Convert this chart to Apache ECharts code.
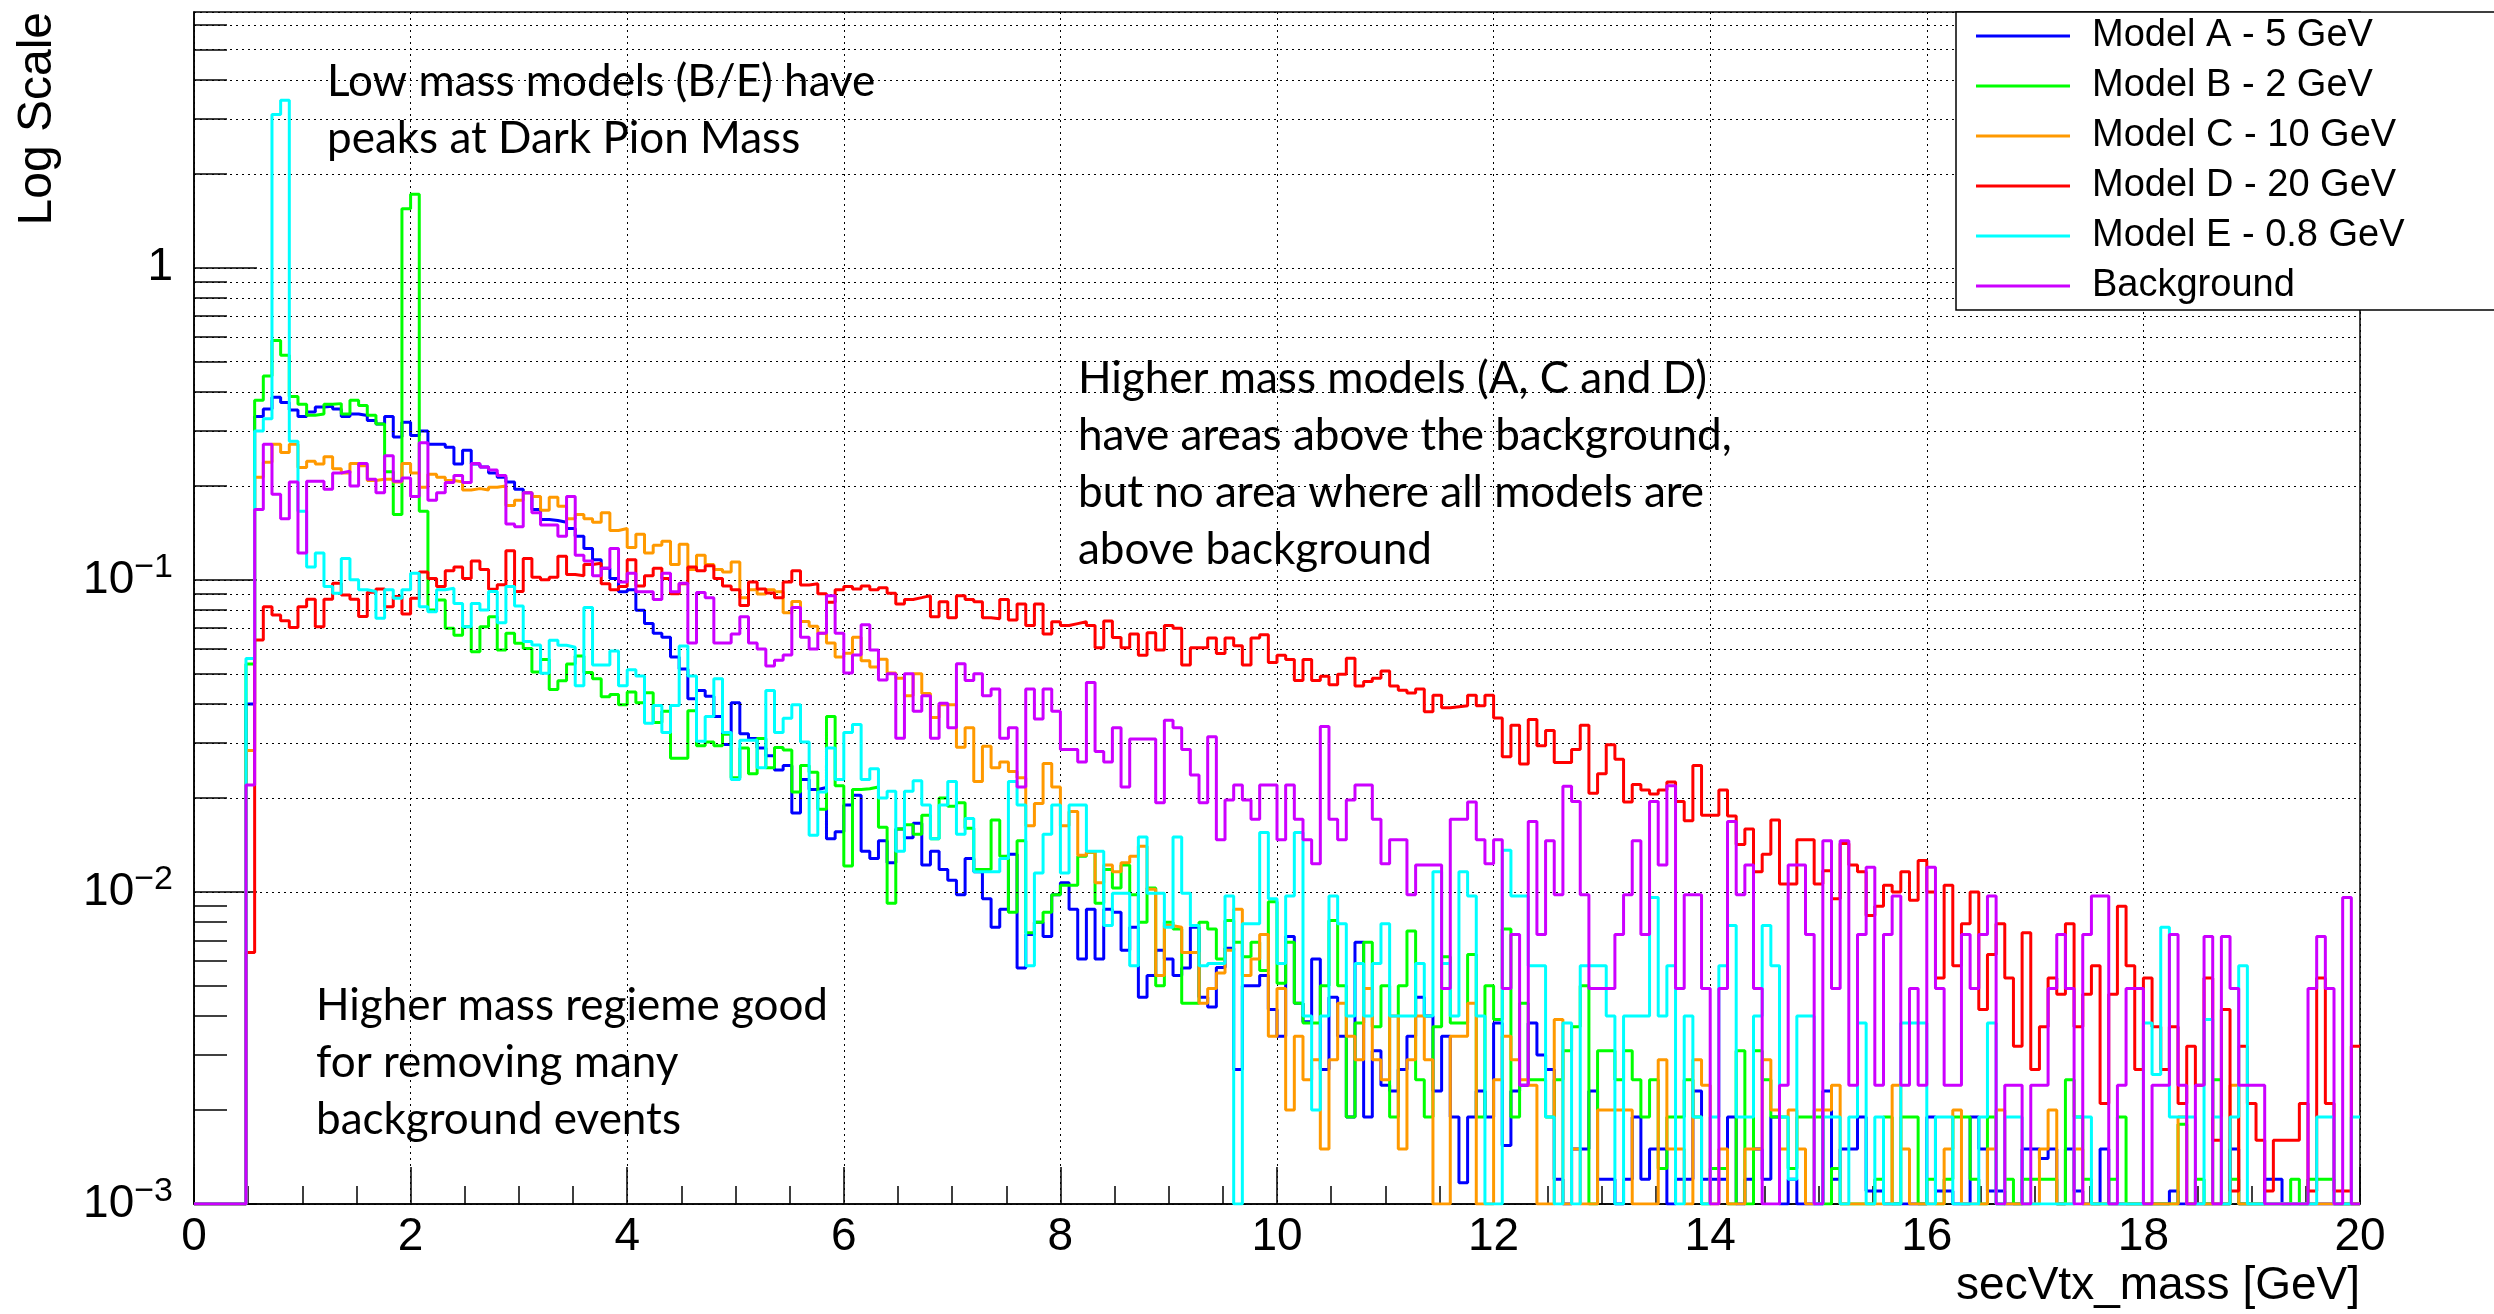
<!DOCTYPE html>
<html>
<head>
<meta charset="utf-8">
<title>secVtx_mass</title>
<script src="https://cdn.jsdelivr.net/npm/echarts@6/dist/echarts.min.js"></script>
<style>
  html, body { margin: 0; padding: 0; background: #fff; }
  #chart { width: 2494px; height: 1314px; }
</style>
</head>
<body>
<div id="chart"></div>
<script>
// 250 bins of 0.08 GeV from 0 to 20 GeV, one value per bin (left edge = i * binWidth)
var binWidth = 0.08;

var modelA = [
  0, 0, 0, 0, 0, 0,
  0.04, 0.334, 0.353, 0.385, 0.37, 0.35, 0.334, 0.345, 0.358, 0.36, 0.353, 0.334, 0.34, 0.336, 0.324, 0.316, 0.334, 0.287, 0.32, 0.29, 0.30, 0.272, 0.272, 0.266, 0.235, 0.26, 0.235, 0.23, 0.22, 0.213, 0.206, 0.195, 0.19, 0.168, 0.156, 0.155,
  0.153, 0.146, 0.138, 0.126, 0.116, 0.109, 0.101, 0.0916, 0.093, 0.0799, 0.0725, 0.0674, 0.0655, 0.0566, 0.0518, 0.0416, 0.0442, 0.0424, 0.0365, 0.0297, 0.0404, 0.0321, 0.031, 0.0289, 0.0273, 0.0246, 0.0254, 0.0179, 0.0229, 0.0213, 0.0216, 0.0148, 0.0156, 0.019, 0.0204, 0.0135, 0.0128, 0.0146,
  0.0124, 0.0159, 0.0149, 0.0166, 0.0122, 0.0135, 0.0118, 0.0109, 0.0098, 0.0128, 0.0116, 0.0095, 0.0077, 0.0088, 0.0132, 0.0057, 0.0073, 0.008, 0.0072, 0.0098, 0.0107, 0.0088, 0.0061, 0.0088, 0.0061, 0.0088, 0.0086, 0.0065, 0.0077, 0.0046, 0.0054, 0.0065, 0.0061, 0.0054, 0.0057, 0.0077, 0.0046,
  0.00428, 0.00573, 0.0066, 0.0027, 0.005, 0.005, 0.0054, 0.0042, 0.00345, 0.0072, 0.0044, 0.00384, 0.0061, 0.0027, 0.0046, 0.00345, 0.0019, 0.0069, 0.0019, 0.0031, 0.0024, 0.0023, 0.0027, 0.00345, 0.0046, 0.004, 0.0023, 0.00345, 0.0019, 0.00117, 0.0019, 0.0023, 0.0019, 0.0038, 0.00154, 0.0023, 0.0024, 0.0038,
  0.003, 0.0027, 0.0012, 0, 0.0015, 0.0015, 0.0023, 0.0012, 0.0012, 0, 0.0012, 0.0019, 0.0012, 0.0015, 0.0015, 0, 0.0012, 0.0012, 0.0023, 0.0012, 0.0012, 0.0012, 0.0019, 0, 0.0012, 0.0015, 0.0012, 0.0019, 0, 0.0012, 0, 0, 0, 0.0023, 0.0012, 0.0015, 0.0015,
  0.0019, 0.0011, 0.0011, 0, 0, 0, 0, 0, 0.0019, 0.0011, 0.0011, 0, 0, 0.0019, 0.0015, 0.0011, 0.0011, 0, 0, 0.0015, 0.0015, 0.0014, 0.0015, 0, 0.0015, 0.0011, 0, 0, 0.0015, 0, 0, 0, 0, 0, 0, 0, 0.0011,
  0, 0, 0, 0, 0, 0, 0.0015, 0, 0, 0, 0.0012, 0.0012, 0, 0, 0, 0, 0, 0, 0, 0, 0
];

var modelB = [
  0, 0, 0, 0, 0, 0,
  0.0537, 0.376, 0.45, 0.585, 0.524, 0.387, 0.365, 0.337, 0.34, 0.365, 0.367, 0.34, 0.376, 0.362, 0.337, 0.316, 0.222, 0.162, 1.545, 1.72, 0.166, 0.08, 0.0862, 0.07, 0.0665, 0.0708, 0.0588, 0.0708, 0.0762, 0.0596, 0.0674, 0.0626, 0.0603, 0.0507, 0.0556, 0.0445,
  0.0475, 0.0537, 0.057, 0.0505, 0.0482, 0.0422, 0.0429, 0.0398, 0.0437, 0.0404, 0.0435, 0.0349, 0.0379, 0.0268, 0.0268, 0.0381, 0.0294, 0.0302, 0.0294, 0.032, 0.0232, 0.0289, 0.0239, 0.031, 0.025, 0.029, 0.0285, 0.0209, 0.0254, 0.0242, 0.0184, 0.0365, 0.0219, 0.0121, 0.0213, 0.0214, 0.0217, 0.0161,
  0.0092, 0.0159, 0.0164, 0.0153, 0.0176, 0.0148, 0.02, 0.0188, 0.0193, 0.016, 0.0118, 0.0118, 0.017, 0.013, 0.0086, 0.0146, 0.0074, 0.008, 0.0086, 0.0098, 0.0105, 0.0105, 0.013, 0.0134, 0.0092, 0.0118, 0.0103, 0.0122, 0.0098, 0.008, 0.0103, 0.005, 0.008, 0.0076, 0.0044, 0.0044, 0.008,
  0.0076, 0.0061, 0.0081, 0.0069, 0.0062, 0.0069, 0.0056, 0.0093, 0.0051, 0.0069, 0.0044, 0.0038, 0.0038, 0.005, 0.0081, 0.005, 0.0019, 0.0038, 0.0069, 0.0037, 0.005, 0.0019, 0.005, 0.0075, 0.0025, 0.0019, 0.0037, 0.0062, 0.0038, 0.0038, 0.0063, 0.0019, 0.005, 0.0039, 0.0076, 0.0019, 0.0044, 0.0025,
  0.0025, 0.0019, 0.0025, 0.0031, 0.0037, 0.005, 0, 0.0031, 0.0031, 0.0025, 0.0031, 0.0025, 0.0019, 0.0025, 0.0013, 0.0019, 0.0019, 0.0025, 0.0019, 0, 0.0013, 0.0013, 0, 0.0031, 0, 0.0031, 0.0025, 0.0019, 0.0019, 0.0013, 0.0019, 0.0019, 0.0019, 0, 0.0013, 0, 0,
  0, 0, 0.0012, 0.0019, 0, 0.0019, 0.0019, 0, 0.0012, 0, 0.0012, 0.0019, 0.0019, 0.0012, 0, 0.0019, 0, 0.0012, 0, 0.0012, 0.0012, 0.0012, 0.0012, 0, 0.0025, 0.0019, 0.0012, 0, 0, 0.0012, 0.0019, 0, 0, 0, 0, 0, 0,
  0.0018, 0, 0.0012, 0, 0.0025, 0, 0.0012, 0, 0, 0, 0, 0, 0, 0.0012, 0, 0.0012, 0.0012, 0.0012, 0, 0, 0
];

var modelC = [
  0, 0, 0, 0, 0, 0,
  0.0284, 0.213, 0.238, 0.272, 0.256, 0.272, 0.229, 0.24, 0.235, 0.248, 0.227, 0.22, 0.236, 0.232, 0.208, 0.21, 0.21, 0.206, 0.236, 0.22, 0.198, 0.218, 0.213, 0.208, 0.206, 0.194, 0.196, 0.194, 0.198, 0.20, 0.173, 0.18, 0.19, 0.185, 0.167, 0.184,
  0.172, 0.157, 0.162, 0.157, 0.153, 0.164, 0.144, 0.146, 0.127, 0.14, 0.122, 0.129, 0.133, 0.112, 0.13, 0.108, 0.12, 0.112, 0.108, 0.106, 0.114, 0.0877, 0.093, 0.09, 0.093, 0.0916, 0.0785, 0.0852, 0.0736, 0.071, 0.0674, 0.0627, 0.0566, 0.0582, 0.0655, 0.055, 0.0526, 0.0557,
  0.0503, 0.0484, 0.0425, 0.05, 0.0432, 0.0362, 0.0398, 0.0398, 0.0291, 0.0336, 0.0226, 0.0293, 0.025, 0.0261, 0.0243, 0.0232, 0.0163, 0.0192, 0.0258, 0.0217, 0.0163, 0.0181, 0.0131, 0.0134, 0.0107, 0.0122, 0.0116, 0.0124, 0.013, 0.014, 0.0102, 0.0054, 0.0078, 0.0077, 0.0064, 0.0064, 0.0044,
  0.0049, 0.0055, 0.0065, 0.0088, 0.0054, 0.0061, 0.0073, 0.00345, 0.0049, 0.002, 0.00345, 0.0025, 0.0029, 0.0015, 0.0029, 0.0044, 0.00345, 0.0029, 0.0049, 0.0029, 0.0025, 0.004, 0.0015, 0.0029, 0.004, 0.0029, 0, 0, 0.00345, 0.00345, 0.0044, 0, 0, 0.0025, 0.00345, 0.0029, 0.0025, 0.0024,
  0, 0, 0.0039, 0, 0.0015, 0, 0, 0.002, 0.002, 0.002, 0.002, 0, 0, 0, 0.0029, 0.0015, 0.0015, 0, 0.0029, 0.0024, 0, 0.0015, 0, 0, 0.0015, 0.0015, 0.0029, 0.002, 0.0015, 0.002, 0.0015, 0, 0.002, 0.002, 0.0024, 0, 0,
  0, 0, 0, 0, 0.0024, 0.0015, 0, 0, 0, 0, 0.0015, 0.002, 0, 0, 0, 0.0015, 0.002, 0, 0, 0, 0, 0.0015, 0.002, 0, 0, 0.0015, 0, 0, 0, 0, 0, 0, 0, 0, 0, 0, 0,
  0.0019, 0, 0, 0, 0, 0, 0.0024, 0, 0, 0, 0, 0, 0, 0, 0, 0, 0, 0, 0, 0, 0
];

var modelD = [
  0, 0, 0, 0, 0, 0,
  0.0064, 0.0641, 0.082, 0.0772, 0.074, 0.0703, 0.082, 0.0866, 0.0708, 0.0866, 0.0975, 0.0895, 0.0866, 0.0763, 0.0913, 0.0935, 0.082, 0.0884, 0.0777, 0.0873, 0.106, 0.101, 0.0952, 0.107, 0.11, 0.101, 0.115, 0.108, 0.0933, 0.0964, 0.124, 0.0917, 0.117, 0.102, 0.10, 0.102,
  0.119, 0.104, 0.103, 0.112, 0.113, 0.0971, 0.0929, 0.0952, 0.116, 0.0956, 0.103, 0.109, 0.101, 0.0903, 0.0971, 0.11, 0.107, 0.111, 0.101, 0.0956, 0.0929, 0.0827, 0.0985, 0.0935, 0.0908, 0.0877, 0.0985, 0.107, 0.0963, 0.0971, 0.0903, 0.0847, 0.0929, 0.0952, 0.0935, 0.0956, 0.0929, 0.0943,
  0.0905, 0.0836, 0.0865, 0.0877, 0.089, 0.0761, 0.085, 0.0756, 0.089, 0.0865, 0.085, 0.0756, 0.075, 0.0865, 0.0744, 0.0836, 0.0714, 0.0836, 0.067, 0.0734, 0.0714, 0.0724, 0.0734, 0.0714, 0.0606, 0.0738, 0.0654, 0.0606, 0.067, 0.0573, 0.0677, 0.0596, 0.0714, 0.07, 0.0533, 0.0606, 0.0606,
  0.0651, 0.0581, 0.0651, 0.0615, 0.0533, 0.0651, 0.0667, 0.0543, 0.0573, 0.0556, 0.0476, 0.0556, 0.0476, 0.0491, 0.0461, 0.0498, 0.0561, 0.0457, 0.0472, 0.0484, 0.051, 0.0457, 0.0443, 0.0434, 0.0447, 0.0378, 0.0427, 0.0389, 0.0392, 0.0395, 0.0427, 0.0395, 0.0427, 0.0361, 0.0271, 0.0342, 0.0257, 0.0357,
  0.0294, 0.0329, 0.026, 0.026, 0.0286, 0.0342, 0.0207, 0.0239, 0.0296, 0.0266, 0.0194, 0.0221, 0.0212, 0.0206, 0.0212, 0.0225, 0.0195, 0.0169, 0.0254, 0.0176, 0.0176, 0.0212, 0.0175, 0.0142, 0.0159, 0.0116, 0.0132, 0.017, 0.0106, 0.0106, 0.0147, 0.0147, 0.0106, 0.0117, 0.0095, 0.0143, 0.0122,
  0.0116, 0.0084, 0.009, 0.0105, 0.01, 0.0116, 0.0094, 0.0126, 0.01, 0.0053, 0.0105, 0.0058, 0.0079, 0.01, 0.0042, 0.0063, 0.0079, 0.0053, 0.0032, 0.0074, 0.0027, 0.0037, 0.0053, 0.0047, 0.0079, 0.0037, 0.0047, 0.0058, 0.0021, 0.0047, 0.009, 0.0058, 0.0027, 0.0053, 0.0037, 0.0027, 0.0037,
  0.0021, 0.0032, 0.0024, 0.0053, 0.0016, 0.0042, 0.0011, 0.0032, 0.0021, 0.0016, 0.0011, 0.0016, 0.0016, 0.0016, 0.0021, 0.0011, 0.0053, 0.0021, 0.0011, 0.0011, 0.0032
];

var modelE = [
  0, 0, 0, 0, 0, 0,
  0.056, 0.30, 0.328, 3.1, 3.44, 0.278, 0.166, 0.110, 0.122, 0.0952, 0.0906, 0.117, 0.10, 0.093, 0.0917, 0.0753, 0.093, 0.0873, 0.093, 0.105, 0.082, 0.079, 0.093, 0.094, 0.084, 0.0708, 0.084, 0.080, 0.0917, 0.0729, 0.0952, 0.0825, 0.0634, 0.0618, 0.0502, 0.064,
  0.0617, 0.0608, 0.0458, 0.0815, 0.0533, 0.0533, 0.0591, 0.0458, 0.0515, 0.0492, 0.0347, 0.0396, 0.0324, 0.0396, 0.0614, 0.0492, 0.0304, 0.0365, 0.0482, 0.0324, 0.0229, 0.0306, 0.0306, 0.025, 0.0442, 0.0324, 0.036, 0.0398, 0.0302, 0.0152, 0.0209, 0.0289, 0.0229, 0.0324, 0.0344, 0.0229, 0.0248, 0.02,
  0.021, 0.0135, 0.021, 0.0227, 0.019, 0.0148, 0.019, 0.0226, 0.0153, 0.0172, 0.0116, 0.0116, 0.0116, 0.0128, 0.0226, 0.019, 0.0058, 0.0115, 0.0153, 0.019, 0.0115, 0.019, 0.019, 0.0135, 0.0135, 0.0078, 0.0099, 0.0099, 0.0058, 0.015, 0.0099, 0.0099, 0.0077, 0.015, 0.0099, 0.0078, 0.0058,
  0.0059, 0.0059, 0.0097, 0, 0.0079, 0.0079, 0.0155, 0.0095, 0.0059, 0.0097, 0.0155, 0.004, 0.002, 0.004, 0.0097, 0.0079, 0.004, 0.0059, 0.004, 0.0059, 0.0079, 0.004, 0.004, 0.004, 0.0059, 0.004, 0.0116, 0.0059, 0.004, 0.0116, 0.0097, 0.004, 0, 0, 0.0136, 0.0097, 0.0097, 0.0058,
  0.0058, 0.0019, 0, 0.0038, 0, 0.0058, 0.0058, 0.0058, 0.004, 0, 0.004, 0.004, 0.004, 0.0096, 0.004, 0.0058, 0, 0.004, 0.0019, 0, 0.0019, 0.0058, 0.0078, 0.0019, 0.0019, 0.004, 0.0078, 0.0058, 0.0019, 0.0012, 0.004, 0.004, 0, 0.0019, 0.0019, 0, 0.0019,
  0.0038, 0, 0.0019, 0, 0, 0.0038, 0.0038, 0.0038, 0, 0.0019, 0.0019, 0, 0, 0, 0.0019, 0.0038, 0, 0.0019, 0.0019, 0, 0, 0, 0, 0, 0, 0.0019, 0.0019, 0, 0, 0, 0, 0, 0, 0.0038, 0.0026, 0.0077, 0.0019,
  0.0019, 0.0019, 0, 0.0039, 0.0019, 0, 0.0019, 0.0058, 0, 0, 0, 0, 0, 0, 0, 0, 0.0019, 0.0019, 0, 0, 0.0019
];

var background = [
  0, 0, 0, 0, 0, 0,
  0.022, 0.168, 0.272, 0.188, 0.157, 0.206, 0.122, 0.207, 0.207, 0.195, 0.22, 0.223, 0.2, 0.236, 0.21, 0.19, 0.25, 0.207, 0.212, 0.185, 0.275, 0.18, 0.19, 0.205, 0.216, 0.205, 0.236, 0.23, 0.225, 0.216, 0.151, 0.148, 0.19, 0.164, 0.15, 0.15,
  0.138, 0.185, 0.12, 0.115, 0.103, 0.109, 0.126, 0.0985, 0.105, 0.0916, 0.0916, 0.0865, 0.105, 0.0916, 0.0975, 0.0627, 0.091, 0.0877, 0.0627, 0.0627, 0.067, 0.0762, 0.0627, 0.06, 0.053, 0.0553, 0.0574, 0.0815, 0.0655, 0.06, 0.0674, 0.089, 0.0674, 0.0503, 0.0574, 0.0718, 0.0596, 0.0478,
  0.05, 0.0311, 0.05, 0.0379, 0.0425, 0.0311, 0.0402, 0.0336, 0.0538, 0.0476, 0.05, 0.0425, 0.0447, 0.0311, 0.0336, 0.0217, 0.0447, 0.0358, 0.0447, 0.0379, 0.0286, 0.0286, 0.0261, 0.0469, 0.0282, 0.0261, 0.0336, 0.0217, 0.0309, 0.0309, 0.0309, 0.0193, 0.0355, 0.0336, 0.0286, 0.0237, 0.0193,
  0.0314, 0.0147, 0.0197, 0.022, 0.0197, 0.0171, 0.022, 0.022, 0.0147, 0.022, 0.0171, 0.0147, 0.0123, 0.0339, 0.0171, 0.0147, 0.0197, 0.022, 0.022, 0.0171, 0.0123, 0.0147, 0.0147, 0.0098, 0.0122, 0.0122, 0.0122, 0.0049, 0.0171, 0.0171, 0.0194, 0.0147, 0.0123, 0.0147, 0.0049, 0.0073, 0.0024, 0.0168,
  0.0073, 0.0146, 0.0098, 0.0218, 0.0195, 0.0098, 0.0049, 0.0049, 0.0049, 0.0073, 0.0098, 0.0146, 0.0073, 0.0195, 0.0122, 0.0219, 0.0049, 0.0098, 0.0098, 0.0049, 0, 0.0049, 0.0168, 0.0098, 0.0122, 0.0049, 0, 0, 0.0024, 0.0122, 0.0122, 0.0073, 0, 0.0146, 0.0049, 0.0146, 0.0024,
  0.0073, 0.012, 0.0024, 0.0073, 0.0097, 0.0024, 0.0049, 0.0024, 0.012, 0.0049, 0.0024, 0.0024, 0.0073, 0.0049, 0.0073, 0.0097, 0, 0.0024, 0.0024, 0, 0.0024, 0.0024, 0.0049, 0.0073, 0.0049, 0, 0.0073, 0.0097, 0.0097, 0, 0.0024, 0.0049, 0.0049, 0, 0.0024, 0.0024, 0.0073,
  0.0024, 0, 0.0024, 0.0072, 0, 0.0072, 0.0049, 0.0024, 0.0024, 0.0024, 0, 0, 0, 0, 0, 0.0049, 0.0072, 0.0049, 0, 0.0096, 0
];

var seriesNames = ['Model A - 5 GeV', 'Model B - 2 GeV', 'Model C - 10 GeV', 'Model D - 20 GeV', 'Model E - 0.8 GeV', 'Background'];
var seriesColors = ['#0000ff', '#00ff00', '#ff9900', '#ff0000', '#00ffff', '#cc00ff'];
var hists = [modelA, modelB, modelC, modelD, modelE, background];

// y axis (log) range and the 2..9 minor grid of each decade
var yMin = 0.001;
var yMax = 6.6;
var decades = [0.001, 0.01, 0.1, 1];
var mantissas = [2, 3, 4, 5, 6, 7, 8, 9];

var notes = [
  { x: 327, y: 82, lines: ['Low mass models (B/E) have', 'peaks at Dark Pion Mass'] },
  { x: 1078, y: 379, lines: ['Higher mass models (A, C and D)', 'have areas above the background,', 'but no area where all models are', 'above background'] },
  { x: 316, y: 1006, lines: ['Higher mass regieme good', 'for removing many', 'background events'] }
];

hists.forEach(function (h, k) {
  if (h.length !== 250) throw new Error(seriesNames[k] + ' has ' + h.length + ' bins');
});

// histogram -> step points, empty bins sit on the frame bottom like ROOT does
function toSteps(values) {
  var pts = values.map(function (v, i) {
    return [i * binWidth, v > 0 ? v : yMin];
  });
  pts.push([values.length * binWidth, pts[pts.length - 1][1]]);
  return pts;
}

var minorGrid = [];
decades.forEach(function (d) {
  mantissas.forEach(function (m) {
    var v = +(m * d).toPrecision(3);
    if (v < yMax) minorGrid.push(v);
  });
});

var font = 'Liberation Sans';
var minorTickLen = 0.305; // in GeV, ~33px

var series = [
  {
    type: 'line', data: [], silent: true, z: 1,
    markLine: {
      silent: true, symbol: ['none', 'none'], animation: false,
      label: { show: false },
      lineStyle: { color: '#000', type: [2, 4], width: 1 },
      data: minorGrid.map(function (v) { return { yAxis: v }; })
    }
  },
  {
    type: 'line', data: [], silent: true, z: 1,
    markLine: {
      silent: true, symbol: ['none', 'none'], animation: false,
      label: { show: false },
      lineStyle: { color: '#000', type: 'solid', width: 1.5 },
      data: minorGrid.map(function (v) {
        return [{ coord: [0, v] }, { coord: [minorTickLen, v] }];
      })
    }
  }
];

hists.forEach(function (h, k) {
  series.push({
    name: seriesNames[k],
    type: 'line',
    step: 'end',
    data: toSteps(h),
    symbol: 'none',
    showSymbol: false,
    clip: true,
    z: 3 + k,
    lineStyle: { color: seriesColors[k], width: 3 },
    itemStyle: { color: seriesColors[k] },
    emphasis: { disabled: true }
  });
});

var graphics = [
  {
    type: 'text', x: 38, y: 12, rotation: Math.PI / 2,
    style: { text: 'Log Scale', fontSize: 48, fontFamily: font, fill: '#000', align: 'right', verticalAlign: 'middle' }
  },
  {
    type: 'text', x: 2360, y: 1286,
    style: { text: 'secVtx_mass [GeV]', fontSize: 46, fontFamily: font, fill: '#000', align: 'right', verticalAlign: 'middle' }
  }
];
notes.forEach(function (n) {
  n.lines.forEach(function (line, j) {
    graphics.push({
      type: 'text', x: n.x, y: n.y + j * 57,
      style: { text: line, fontSize: 44, fontFamily: 'Lato', fill: '#000', align: 'left', verticalAlign: 'middle' }
    });
  });
});

var myChart = echarts.init(document.getElementById('chart'), null, { renderer: 'canvas' });

var option = {
  animation: false,
  backgroundColor: '#fff',
  grid: {
    left: 194, right: 134, top: 12, bottom: 110,
    show: true, borderColor: '#000', borderWidth: 1.5, backgroundColor: 'transparent'
  },
  legend: {
    data: seriesNames,
    orient: 'vertical',
    left: 1956, top: 12,
    z: 20,
    icon: 'rect',
    itemWidth: 94, itemHeight: 3,
    itemGap: 6,
    selectedMode: false,
    backgroundColor: '#fff',
    borderColor: '#000', borderWidth: 1.5, borderRadius: 0,
    padding: [2, 120, 2, 20],
    textStyle: { fontSize: 38, fontFamily: font, color: '#000', lineHeight: 44, padding: [0, 0, 0, 17] }
  },
  xAxis: {
    type: 'value', min: 0, max: 20, interval: 2,
    axisLine: { show: true, onZero: false, lineStyle: { color: '#000', width: 1.5 } },
    axisTick: { show: true, inside: true, length: 37, lineStyle: { color: '#000', width: 1.5 } },
    minorTick: { show: true, splitNumber: 4, length: 18, lineStyle: { color: '#000', width: 1.5 } },
    axisLabel: { fontSize: 46, fontFamily: font, color: '#000', margin: 10 },
    splitLine: { show: true, lineStyle: { color: '#000', type: [2, 4], width: 1 } }
  },
  yAxis: {
    type: 'log', logBase: 10, min: yMin, max: yMax,
    axisLine: { show: true, onZero: false, lineStyle: { color: '#000', width: 1.5 } },
    axisTick: { show: true, inside: true, length: 63, lineStyle: { color: '#000', width: 1.5 } },
    axisLabel: {
      margin: 21, showMaxLabel: false, color: '#000', fontFamily: font,
      formatter: function (v) {
        var e = Math.round(Math.log10(v));
        if (Math.abs(v / Math.pow(10, e) - 1) > 1e-6) return '';
        if (e === 0) return '{one|1}';
        return '{b|10}{s|\u2212' + (-e) + '}';
      },
      rich: {
        one: { fontSize: 46, fontFamily: font, color: '#000', lineHeight: 46 },
        b: { fontSize: 46, fontFamily: font, color: '#000', lineHeight: 58, verticalAlign: 'middle' },
        s: { fontSize: 34, fontFamily: font, color: '#000', lineHeight: 26, verticalAlign: 'top' }
      }
    },
    splitLine: { show: true, lineStyle: { color: '#000', type: [2, 4], width: 1 } }
  },
  graphic: graphics,
  series: series
};

myChart.setOption(option);
</script>
</body>
</html>
